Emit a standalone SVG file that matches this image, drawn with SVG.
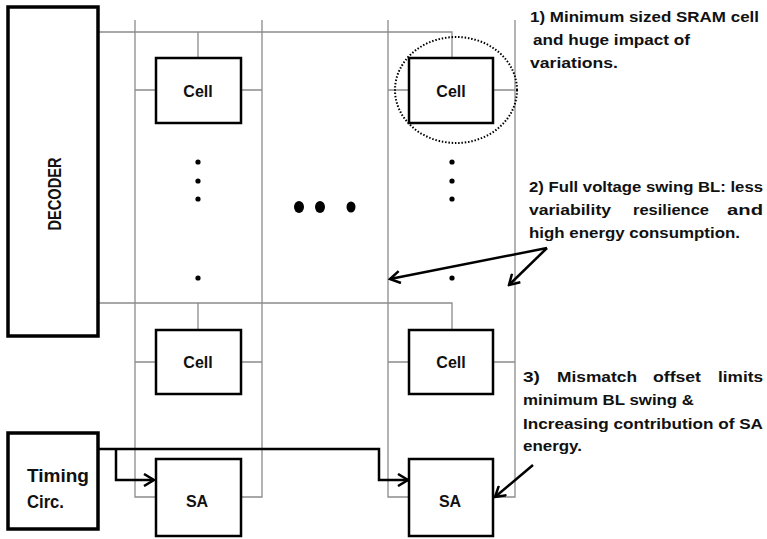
<svg xmlns="http://www.w3.org/2000/svg" width="767" height="539" viewBox="0 0 767 539">
<style>
.g{fill:none;stroke:#8c8c8c;stroke-width:1.3}
.box{fill:#fff;stroke:#000;stroke-width:2.5}
.big{fill:#fff;stroke:#000;stroke-width:3.5}
.t{font-family:"Liberation Sans",Arial,sans-serif;font-weight:bold;fill:#111}
.c{font-size:16px;text-anchor:middle}
.n{font-size:15.5px}
.w{fill:none;stroke:#000;stroke-width:2.5;stroke-linejoin:miter}
</style>
<defs>
<marker id="ah" viewBox="0 0 14 14" refX="12" refY="7" markerWidth="14" markerHeight="14" orient="auto" markerUnits="userSpaceOnUse">
<path d="M2,1 L12,7 L2,13" fill="none" stroke="#000" stroke-width="2.5"/>
</marker>
</defs>
<rect width="767" height="539" fill="#fff"/>
<g id="connectors">
<path class="g" d="M135,20 V497 H156 M262,20 V497 H241 M388,20 V497 H409 M515,20 V497 H493"/>
<path class="g" d="M99,32 H452 V58 M198,32 V58"/>
<path class="g" d="M99,303 H452 V330 M198,303 V330"/>
<path class="g" d="M135,90 H156 M241,90 H262 M388,90 H409 M493,90 H515"/>
<path class="g" d="M135,362 H156 M241,362 H262 M388,362 H409 M493,362 H515"/>
<path class="w" d="M99,449 H379 V480 H408" marker-end="url(#ah)"/>
<path class="w" d="M116,449 V480 H154" marker-end="url(#ah)"/>
<path class="w" d="M547,248 L390,279" marker-end="url(#ah)"/>
<path class="w" d="M547,248 L509,285" marker-end="url(#ah)"/>
<path class="w" d="M533,465 L495,497" marker-end="url(#ah)"/>
</g>
<g id="decoder">
<rect class="big" x="8" y="7" width="90" height="329"/>
<text class="t" font-size="18" text-anchor="middle" transform="translate(61,194) rotate(-90)" textLength="73" lengthAdjust="spacingAndGlyphs">DECODER</text>
</g>
<g id="timing">
<rect class="big" x="8" y="433" width="90" height="96"/>
<text class="t" font-size="19" x="27" y="482" textLength="62" lengthAdjust="spacingAndGlyphs">Timing</text>
<text class="t" font-size="19" x="27" y="508" textLength="37" lengthAdjust="spacingAndGlyphs">Circ.</text>
</g>
<g id="cell-tl">
<rect class="box" x="156" y="58" width="85" height="65"/>
<text class="t c" x="198" y="97">Cell</text>
</g>
<g id="cell-tr">
<rect class="box" x="409" y="58" width="84" height="65"/>
<text class="t c" x="451" y="97">Cell</text>
</g>
<g id="cell-bl">
<rect class="box" x="156" y="330" width="85" height="64"/>
<text class="t c" x="198" y="368">Cell</text>
</g>
<g id="cell-br">
<rect class="box" x="409" y="330" width="84" height="64"/>
<text class="t c" x="451" y="368">Cell</text>
</g>
<g id="sa-l">
<rect class="box" x="156" y="459" width="85" height="77"/>
<text class="t c" x="197" y="507">SA</text>
</g>
<g id="sa-r">
<rect class="box" x="409" y="459" width="84" height="77"/>
<text class="t c" x="450" y="507">SA</text>
</g>
<g id="highlight">
<ellipse cx="456" cy="90" rx="61" ry="53" fill="none" stroke="#000" stroke-width="2" stroke-dasharray="1.5 1.8"/>
</g>
<g id="dots" fill="#000">
<circle cx="198" cy="162" r="2.6"/><circle cx="198" cy="181" r="2.6"/><circle cx="198" cy="199" r="2.6"/><circle cx="198" cy="278" r="2.6"/>
<circle cx="452" cy="162" r="2.6"/><circle cx="452" cy="181" r="2.6"/><circle cx="452" cy="199" r="2.6"/><circle cx="452" cy="278" r="2.6"/>
<ellipse cx="299" cy="207" rx="5" ry="6"/><ellipse cx="320" cy="207" rx="5" ry="6"/><ellipse cx="351" cy="207" rx="4.5" ry="5.5"/>
</g>
<g id="note1" class="t n">
<text x="530" y="22" textLength="229" lengthAdjust="spacingAndGlyphs">1) Minimum sized SRAM cell</text>
<text x="533" y="45" textLength="157" lengthAdjust="spacingAndGlyphs">and huge impact of</text>
<text x="530" y="68" textLength="88" lengthAdjust="spacingAndGlyphs">variations.</text>
</g>
<g id="note2" class="t n">
<text x="529" y="192" textLength="234" lengthAdjust="spacingAndGlyphs">2) Full voltage swing BL: less</text>
<text x="529" y="215" textLength="82" lengthAdjust="spacingAndGlyphs">variability</text>
<text x="633" y="215" textLength="76" lengthAdjust="spacingAndGlyphs">resilience</text>
<text x="727" y="215" textLength="36" lengthAdjust="spacingAndGlyphs">and</text>
<text x="529" y="238" textLength="211" lengthAdjust="spacingAndGlyphs">high energy consumption.</text>
</g>
<g id="note3" class="t n">
<text x="523" y="382" textLength="17" lengthAdjust="spacingAndGlyphs">3)</text>
<text x="557" y="382" textLength="80" lengthAdjust="spacingAndGlyphs">Mismatch</text>
<text x="653" y="382" textLength="48" lengthAdjust="spacingAndGlyphs">offset</text>
<text x="718" y="382" textLength="45" lengthAdjust="spacingAndGlyphs">limits</text>
<text x="523" y="405" textLength="171" lengthAdjust="spacingAndGlyphs">minimum BL swing &amp;</text>
<text x="523" y="429" textLength="240" lengthAdjust="spacingAndGlyphs">Increasing contribution of SA</text>
<text x="523" y="451" textLength="59" lengthAdjust="spacingAndGlyphs">energy.</text>
</g>
</svg>
